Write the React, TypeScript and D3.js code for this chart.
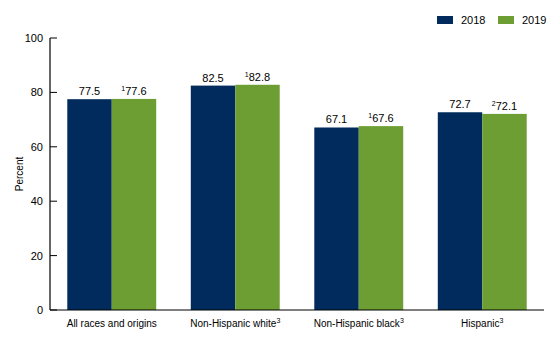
import React from "react";
import * as d3 from "d3";

const categories = ["All races and origins", "Non-Hispanic white", "Non-Hispanic black", "Hispanic"];
const categorySup = ["", "3", "3", "3"];
const series = ["2018", "2019"];
const values2018 = [77.5, 82.5, 67.1, 72.7];
const values2019 = [77.6, 82.8, 67.6, 72.1];
const sup2018 = ["", "", "", ""];
const sup2019 = ["1", "1", "1", "2"];
const yTicks = [0, 20, 40, 60, 80, 100];
const colors = ["#002b5c", "#6d9e33"];

const W = 560, H = 342;
const left = 50, right = 544, top = 38, bottom = 310;
const font = "Liberation Sans, Arial, sans-serif";

export default function App() {
  const y = d3.scaleLinear().domain([0, 100]).range([bottom, top]);
  const x0 = d3.scaleBand<string>().domain(categories).range([left, right]).paddingInner(0.28).paddingOuter(0.14);
  const x1 = d3.scaleBand<string>().domain(series).range([0, x0.bandwidth()]);
  const data = [values2018, values2019];
  const sups = [sup2018, sup2019];
  return (
    <svg width={W} height={H} style={{ position: "absolute", left: 0, top: 0 }} fontFamily={font}>
      <rect width={W} height={H} fill="#fff" />
      {categories.map((c, i) =>
        series.map((s, j) => {
          const v = data[j][i];
          const bx = (x0(c) ?? 0) + (x1(s) ?? 0);
          const bw = x1.bandwidth();
          const cx = bx + bw / 2;
          return (
            <g key={c + s}>
              <rect x={bx} y={y(v)} width={bw} height={bottom - y(v)} fill={colors[j]} />
              <text x={cx} y={y(v) - 4} textAnchor="middle" fontSize={11} fill="#000">
                {sups[j][i] ? <tspan fontSize={7} dy={-4}>{sups[j][i]}</tspan> : null}
                <tspan dy={sups[j][i] ? 4 : 0}>{v.toFixed(1)}</tspan>
              </text>
            </g>
          );
        })
      )}
      <line x1={left} x2={left} y1={top} y2={bottom} stroke="#000" strokeWidth={1.2} />
      <line x1={left} x2={right} y1={bottom} y2={bottom} stroke="#000" strokeWidth={1.2} />
      {yTicks.map((t) => (
        <g key={t}>
          <line x1={left} x2={left + 7} y1={y(t)} y2={y(t)} stroke="#000" strokeWidth={1} />
          <text x={43} y={y(t) + 4} textAnchor="end" fontSize={11} fill="#000">{t}</text>
        </g>
      ))}
      <text transform={`translate(23,174) rotate(-90)`} textAnchor="middle" fontSize={10} fill="#000">Percent</text>
      {categories.map((c, i) => (
        <text key={c} x={(x0(c) ?? 0) + x0.bandwidth() / 2} y={327} textAnchor="middle" fontSize={10} fill="#000">
          {c}
          {categorySup[i] ? <tspan fontSize={7} dy={-4}>{categorySup[i]}</tspan> : null}
        </text>
      ))}
      {series.map((s, j) => (
        <g key={s} transform={`translate(${437 + j * 61},16)`}>
          <rect x={0} y={0} width={16} height={8} fill={colors[j]} />
          <text x={24} y={8} fontSize={11} fill="#000">{s}</text>
        </g>
      ))}
    </svg>
  );
}
